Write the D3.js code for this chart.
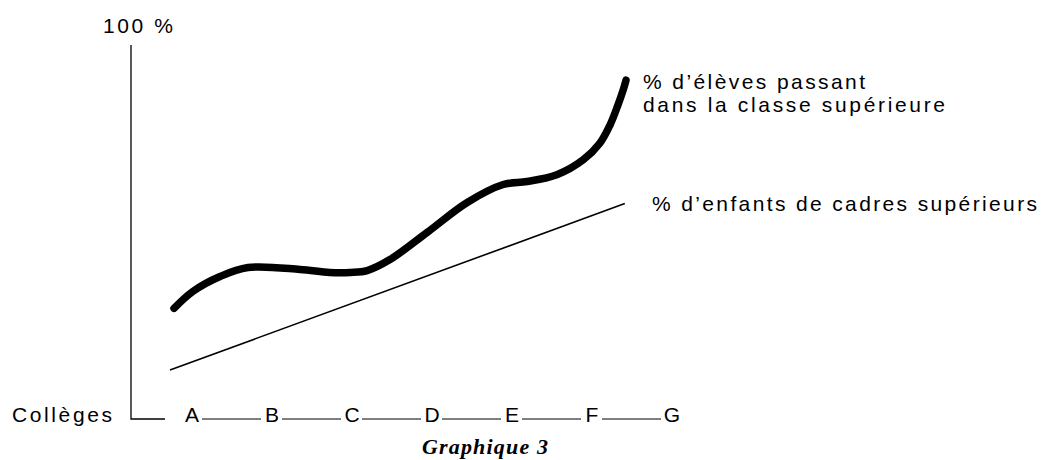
<!DOCTYPE html>
<html>
<head>
<meta charset="utf-8">
<script src="https://cdn.jsdelivr.net/npm/d3@7"></script>
<style>
  body { margin: 0; background: #fff; }
  svg { display: block; }
</style>
</head>
<body>
<svg width="1052" height="460"></svg>
<script>
// colleges along the x axis
const colleges = ['A', 'B', 'C', 'D', 'E', 'F', 'G'];
// thick curve: position in college units (A = 0) and % passing to upper class
const passPos = [-0.225, 0.01, 0.35, 0.7, 1.35, 1.72, 1.98, 2.19, 2.48, 2.94, 3.44, 3.89, 4.19, 4.56, 4.89, 5.1, 5.225, 5.325, 5.39, 5.425];
const passPct = [29.6, 34.1, 38.1, 40.5, 40.0, 39.2, 39.2, 39.7, 42.7, 49.9, 57.9, 62.7, 63.5, 65.3, 69.3, 73.8, 78.6, 84.0, 88.0, 90.6];
// thin straight line: % children of senior executives
const cadrePos = [-0.275, 5.41];
const cadrePct = [13.1, 57.6];
// texts
const yTopLabel = '100 %';
const xTitle = 'Collèges';
const passLabel = ["% d\u2019élèves passant", 'dans la classe supérieure'];
const cadreLabel = "% d\u2019enfants de cadres supérieurs";
const caption = 'Graphique 3';

const svg = d3.select('svg');
const sans = '"Liberation Sans", Arial, Helvetica, sans-serif';

// scales
const xPoint = d3.scalePoint().domain(colleges).range([192, 672]);
const xScale = d3.scaleLinear().domain([0, colleges.length - 1]).range([192, 672]);
const yScale = d3.scaleLinear().domain([0, 100]).range([419, 45]);
const axisX = 131;

// vertical axis + corner stub
svg.append('path')
    .attr('d', `M${axisX},${yScale(100)}V${yScale(0)}H165`)
    .attr('fill', 'none')
    .attr('stroke', '#000')
    .attr('stroke-width', 1.3);

// dashes between college letters
svg.append('g').selectAll('line')
    .data(colleges.slice(1))
    .enter().append('line')
    .attr('x1', (d, i) => xPoint(colleges[i]) + 10)
    .attr('x2', d => xPoint(d) - 11)
    .attr('y1', yScale(0))
    .attr('y2', yScale(0))
    .attr('stroke', '#000')
    .attr('stroke-width', 1.2);

// college letters
svg.append('g').selectAll('text')
    .data(colleges)
    .enter().append('text')
    .attr('x', d => xPoint(d))
    .attr('y', 422)
    .attr('text-anchor', 'middle')
    .attr('font-family', sans)
    .attr('font-size', '21px')
    .text(d => d);

// thin line
const cadreData = cadrePos.map((p, i) => ({ p: p, v: cadrePct[i] }));
svg.append('path')
    .datum(cadreData)
    .attr('d', d3.line().x(d => xScale(d.p)).y(d => yScale(d.v)))
    .attr('fill', 'none')
    .attr('stroke', '#000')
    .attr('stroke-width', 1.6);

// thick curve
const passData = passPos.map((p, i) => ({ p: p, v: passPct[i] }));
svg.append('path')
    .datum(passData)
    .attr('d', d3.line().x(d => xScale(d.p)).y(d => yScale(d.v)).curve(d3.curveCatmullRom.alpha(0.5)))
    .attr('fill', 'none')
    .attr('stroke', '#000')
    .attr('stroke-width', 7.5)
    .attr('stroke-linecap', 'round')
    .attr('stroke-linejoin', 'round');

// helper for stretched text labels
function label(txt, x, y, len, size) {
  return svg.append('text')
      .attr('x', x)
      .attr('y', y)
      .attr('font-family', sans)
      .attr('font-size', size || '21px')
      .attr('textLength', len)
      .attr('lengthAdjust', 'spacing')
      .text(txt);
}

label(yTopLabel, 103, 33, 70);
label(xTitle, 12, 422, 100);
label(passLabel[0], 643, 89, 222);
label(passLabel[1], 643, 112, 302);
label(cadreLabel, 652, 211, 385);

// caption
svg.append('text')
    .attr('x', 422)
    .attr('y', 454)
    .attr('font-family', '"Liberation Serif", "Times New Roman", serif')
    .attr('font-style', 'italic')
    .attr('font-weight', 'bold')
    .attr('font-size', '22px')
    .attr('textLength', 126)
    .attr('lengthAdjust', 'spacing')
    .text(caption);
</script>
</body>
</html>
